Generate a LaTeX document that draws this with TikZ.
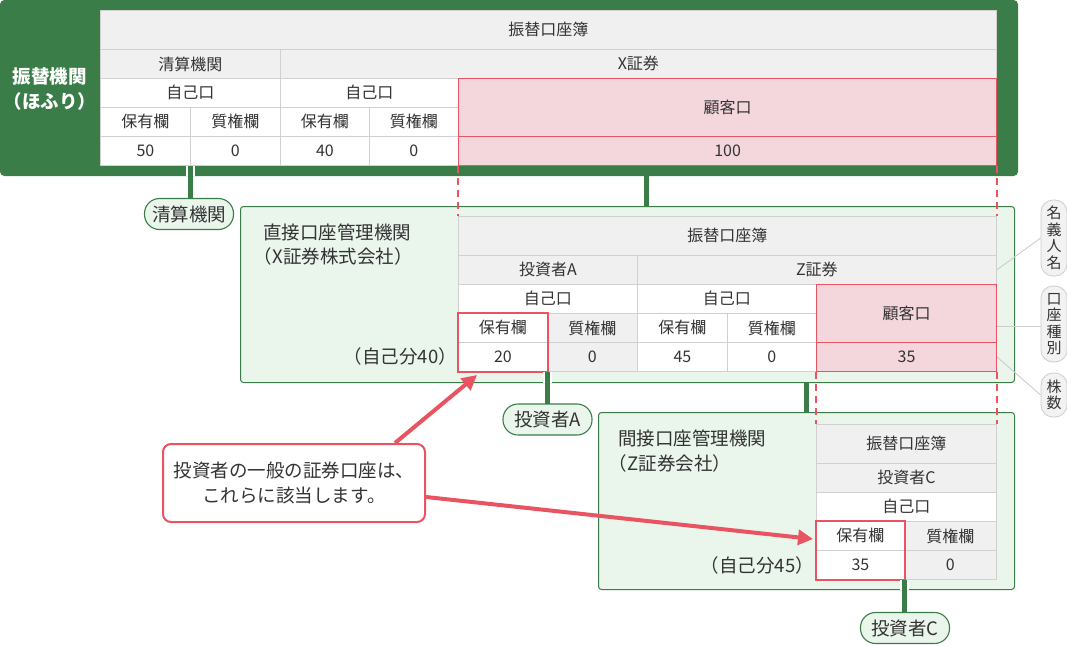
\documentclass[tikz,border=0pt]{standalone}
\usepackage{fontspec}
\setmainfont{Noto Sans CJK JP}
\usetikzlibrary{arrows.meta}
\definecolor{cGreen}{RGB}{58,125,72}
\definecolor{cLight}{RGB}{234,245,236}
\definecolor{cGray}{RGB}{240,240,240}
\definecolor{cLine}{RGB}{208,208,208}
\definecolor{cPink}{RGB}{244,214,221}
\definecolor{cRed}{RGB}{232,84,98}
\definecolor{cTxt}{RGB}{51,51,51}
\definecolor{cSide}{RGB}{242,242,242}
\definecolor{cSideLine}{RGB}{205,205,205}
\newcommand\tcell[7]{\node[#6,minimum width=#4pt,minimum height=#5pt] (#1) at (#2,#3) {#7};}
\begin{document}
\begin{tikzpicture}[x=1pt,y=-1pt,
  cell/.style={draw=cLine,line width=0.8pt,inner sep=0pt,anchor=north west,text=cTxt,font=\fontsize{16}{19}\selectfont},
  gc/.style={cell,fill=cGray},
  wc/.style={cell,fill=white},
  pc/.style={cell,fill=cPink,draw=cRed,line width=1.2pt},
  frame/.style={draw=cGreen,fill=cLight,line width=1pt,rounded corners=3pt,inner sep=0pt,anchor=north west},
  pill/.style={draw=cGreen,fill=cLight,line width=1.1pt,rounded corners=15pt,inner sep=0pt,minimum width=89pt,minimum height=31pt,text=cTxt,font=\fontsize{18.5}{22}\selectfont},
  side/.style={draw=cSideLine,fill=cSide,line width=0.8pt,rounded corners=12pt,inner sep=0pt,minimum width=26pt,text=cTxt,align=center,font=\fontsize{15}{16.5}\selectfont},
  lbl/.style={text=cTxt,inner sep=0pt,font=\fontsize{18.5}{24.5}\selectfont},
  link/.style={draw=cGreen,line width=5pt},
  halo/.style={draw=white,line width=9pt},
  hilite/.style={draw=cRed,line width=2pt},
  guide/.style={draw=cRed,line width=1.6pt,dash pattern=on 7pt off 5pt},
  leader/.style={draw=cSideLine,line width=0.9pt},
  pointer/.style={draw=cRed,line width=4pt,-{Triangle[length=15pt,width=15pt]}},
]
\useasboundingbox (0,0) rectangle (1067,645);

% ---------- frames ----------
\node[frame,fill=cGreen,minimum width=1017pt,minimum height=175pt,rounded corners=4pt] (hofuri) at (0,0) {};
\node[text=white,inner sep=0pt,align=center,font=\bfseries\fontsize{18.5}{25.5}\selectfont] (ttl) at (50,89) {振替機関\\（ほふり）};
\node[frame,minimum width=774pt,minimum height=176pt] (mid) at (240,206) {};
\node[frame,minimum width=416pt,minimum height=177pt] (low) at (598,412) {};

% ---------- connectors between frames ----------
\coordinate (cx1) at (646,0);
\coordinate (cx2) at (806,0);
\draw[link] (hofuri.south -| cx1) -- (mid.north -| cx1);
\draw[link] (mid.south -| cx2) -- (low.north -| cx2);

% ---------- top table ----------
\tcell{t-title}{100}{10}{896}{39}{gc}{振替口座簿}
\tcell{t-clear}{100}{49}{180}{29}{gc}{清算機関}
\tcell{t-x}{280}{49}{716}{29}{gc}{X証券}
\tcell{t-own1}{100}{78}{180}{29}{wc}{自己口}
\tcell{t-own2}{280}{78}{178}{29}{wc}{自己口}
\tcell{t-h1}{100}{107}{90}{29}{wc}{保有欄}
\tcell{t-p1}{190}{107}{90}{29}{wc}{質権欄}
\tcell{t-h2}{280}{107}{89}{29}{wc}{保有欄}
\tcell{t-p2}{369}{107}{89}{29}{wc}{質権欄}
\tcell{t-v1}{100}{136}{90}{29}{wc}{50}
\tcell{t-v2}{190}{136}{90}{29}{wc}{0}
\tcell{t-v3}{280}{136}{89}{29}{wc}{40}
\tcell{t-v4}{369}{136}{89}{29}{wc}{0}
\tcell{t-cust}{458}{78}{538}{58}{pc}{顧客口}
\tcell{t-v5}{458}{136}{538}{29}{pc}{100}

% ---------- middle table ----------
\tcell{m-title}{458}{216}{538}{39}{gc}{振替口座簿}
\tcell{m-A}{458}{255}{179}{29}{gc}{投資者A}
\tcell{m-Z}{637}{255}{359}{29}{gc}{Z証券}
\tcell{m-ownA}{458}{284}{179}{29}{wc}{自己口}
\tcell{m-ownZ}{637}{284}{179}{29}{wc}{自己口}
\tcell{m-hA}{458}{313}{89}{29}{wc}{保有欄}
\tcell{m-pA}{547}{313}{90}{29}{gc}{質権欄}
\tcell{m-hZ}{637}{313}{90}{29}{wc}{保有欄}
\tcell{m-pZ}{727}{313}{89}{29}{wc}{質権欄}
\tcell{m-vA}{458}{342}{89}{29}{wc}{20}
\tcell{m-vpA}{547}{342}{90}{29}{gc}{0}
\tcell{m-vZ}{637}{342}{90}{29}{wc}{45}
\tcell{m-vpZ}{727}{342}{89}{29}{wc}{0}
\tcell{m-cust}{816}{284}{180}{58}{pc}{顧客口}
\tcell{m-vc}{816}{342}{180}{29}{pc}{35}
\draw[hilite] (m-hA.north west) rectangle (m-vA.south east);

% ---------- bottom table ----------
\tcell{b-title}{816}{424}{180}{39}{gc}{振替口座簿}
\tcell{b-C}{816}{463}{180}{29}{gc}{投資者C}
\tcell{b-own}{816}{492}{180}{29}{wc}{自己口}
\tcell{b-h}{816}{521}{88}{29}{wc}{保有欄}
\tcell{b-p}{904}{521}{92}{29}{gc}{質権欄}
\tcell{b-v}{816}{550}{88}{29}{wc}{35}
\tcell{b-vp}{904}{550}{92}{29}{gc}{0}
\draw[hilite] (b-h.north west) rectangle (b-v.south east);

% ---------- frame labels ----------
\node[lbl,align=left,anchor=west] (lblD) at (263,244.5) {直接口座管理機関\\\hspace*{-0.5em}（X証券株式会社）};
\node[lbl,anchor=east] (own40) at (457,356) {（自己分40）};
\node[lbl,align=left,anchor=west] (lblI) at (618,451) {間接口座管理機関\\\hspace*{-0.5em}（Z証券会社）};
\node[lbl,anchor=east] (own45) at (814,565) {（自己分45）};

% ---------- red dashed guides ----------
\draw[guide] (t-v5.south west) -- (t-v5.south west |- m-title.north);
\draw[guide] (t-v5.south east) -- (t-v5.south east |- m-title.north);
\draw[guide] (m-vc.south west) -- (m-vc.south west |- b-title.north);
\draw[guide] (m-vc.south east) -- (m-vc.south east |- b-title.north);

% ---------- pills and their links ----------
\coordinate (pclc) at (189,214);
\coordinate (pAc) at (547.5,419.5);
\coordinate (pCc) at (905,628);
\draw[halo] (t-v1.south east) -- (t-v1.south east |- hofuri.south);
\draw[link] (t-v1.south east) -- (t-v1.south east |- pclc) coordinate (pclTop);
\draw[halo] (m-vA.south east) -- (m-vA.south east |- mid.south);
\draw[link] (m-vA.south east) -- (m-vA.south east |- pAc);
\draw[halo] (b-v.south east) -- (b-v.south east |- low.south);
\draw[link] (b-v.south east) -- (b-v.south east |- pCc);
\node[pill] (pcl) at (pclc) {清算機関};
\node[pill] (pA) at (pAc) {投資者A};
\node[pill] (pC) at (pCc) {投資者C};

% ---------- side labels ----------
\node[side,minimum height=76pt] (nm) at (1054,238) {名\\義\\人\\名};
\node[side,minimum height=76pt] (kz) at (1054,324) {口\\座\\種\\別};
\node[side,minimum height=44pt] (kb) at (1054,395) {株\\数};
\coordinate (ky) at (0,326);
\draw[leader] (nm.west) -- (m-Z.east);
\draw[leader] (kz.west |- ky) -- (m-cust.east |- ky);
\draw[leader] (kb.west) -- (m-vc.east);

% ---------- callout ----------
\coordinate (aA) at (395,0);
\coordinate (tipA) at (477,375);
\coordinate (aC) at (0,497);
\coordinate (tipC) at (813,539);
\node[draw=cRed,line width=2pt,fill=white,rounded corners=8pt,minimum width=262pt,minimum height=78pt,anchor=north west,inner sep=0pt,align=center,text=cTxt,font=\fontsize{18.5}{25}\selectfont] (call) at (162,443) {投資者の一般の証券口座は、\\これらに該当します。};
\draw[pointer] (call.north -| aA) -- (tipA);
\draw[pointer] (call.east |- aC) -- (tipC);
\end{tikzpicture}
\end{document}
